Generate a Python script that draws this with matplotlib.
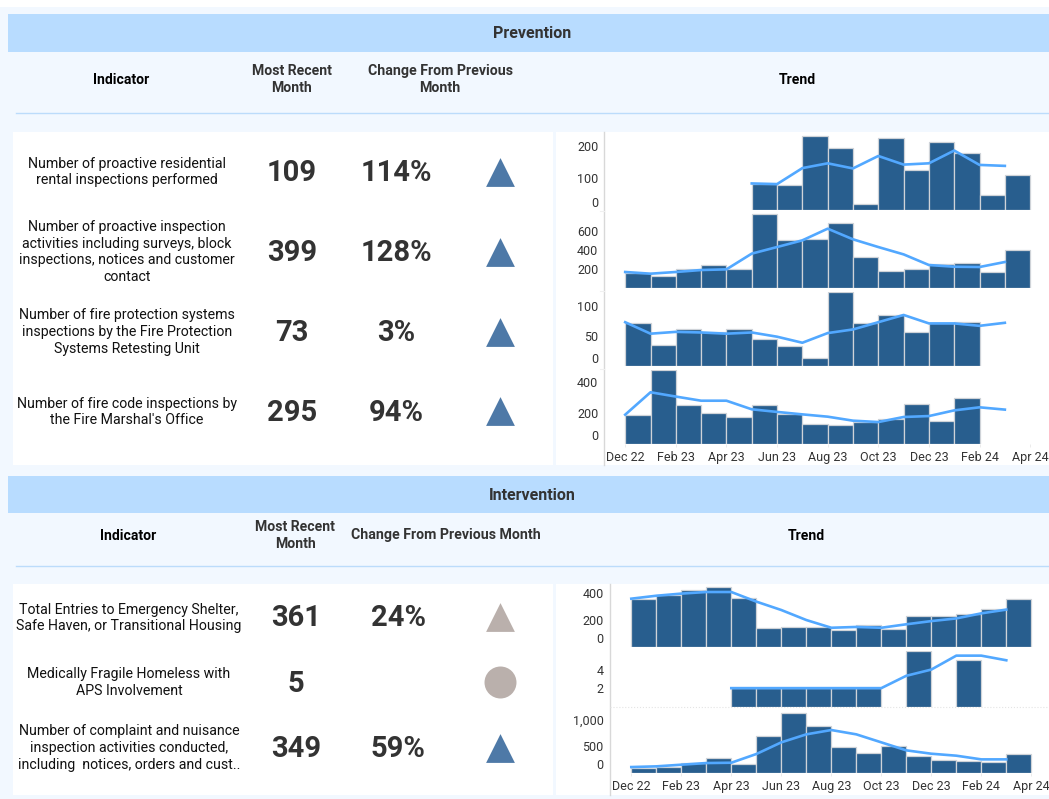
import numpy as np
import matplotlib
matplotlib.use('Agg')
import matplotlib.pyplot as plt
from matplotlib.transforms import ScaledTranslation

plt.rcParams['font.family'] = ['Roboto', 'DejaVu Sans']

#%% data
nan = np.nan
months = ['Dec 22', 'Feb 23', 'Apr 23', 'Jun 23', 'Aug 23', 'Oct 23', 'Dec 23', 'Feb 24', 'Apr 24']

residential_bars = [nan, nan, nan, nan, nan, 81, 78, 232, 194, 20, 227, 125, 215, 178, 49, 109]
residential_line = [nan, nan, nan, nan, nan, 84, 82, 132, 147, 131, 170, 143, 147, 187, 142, 139]

proactive_bars = [163, 131, 205, 244, 198, 782, 510, 524, 690, 326, 177, 205, 251, 262, 170, 399]
proactive_line = [170, 152, 170, 191, 198, 365, 435, 506, 630, 517, 435, 357, 244, 226, 223, 276]

protection_bars = [72, 35, 61, 56, 62, 45, 34, 13, 123, 71, 85, 57, 71, 73, nan, nan]
protection_line = [73, 54, 57, 56, 54, 56, 49, 39, 55, 61, 73, 85, 71, 71, 67, 72]

firecode_bars = [185, 478, 250, 198, 176, 254, 191, 130, 120, 139, 159, 259, 150, 295, nan, nan]
firecode_line = [189, 335, 307, 280, 280, 224, 207, 191, 176, 150, 141, 174, 180, 217, 237, 222]

shelter_bars = [360, 390, 428, 445, 362, 138, 150, 145, 125, 162, 132, 230, 230, 247, 282, 361]
shelter_line = [360, 382, 398, 410, 410, 338, 275, 200, 142, 148, 142, 168, 192, 212, 250, 278]

fragile_bars = [nan, nan, nan, nan, 2, 2, 2, 2, 2, 2, nan, 6, nan, 5, nan, nan]
fragile_line = [nan, nan, nan, nan, 2, 2, 2, 2, 2, 2, 2, 3.33, 4, 5.5, 5.5, 5]

nuisance_bars = [94, 112, 188, 269, 162, 694, 1112, 881, 481, 375, 500, 306, 231, 212, 206, 349]
nuisance_line = [106, 119, 150, 181, 187, 350, 569, 719, 800, 719, 569, 419, 356, 319, 250, 250]

prevention_rows = ['Number of proactive residential\nrental inspections performed',
                   'Number of proactive inspection\nactivities including surveys, block\ninspections, notices and customer\ncontact',
                   'Number of fire protection systems\ninspections by the Fire Protection\nSystems Retesting Unit',
                   "Number of fire code inspections by\nthe Fire Marshal's Office"]
prevention_recent = ['109', '399', '73', '295']
prevention_change = ['114%', '128%', '3%', '94%']

intervention_rows = ['Total Entries to Emergency Shelter,\nSafe Haven, or Transitional Housing',
                     'Medically Fragile Homeless with\nAPS Involvement',
                     'Number of complaint and nuisance\ninspection activities conducted,\nincluding  notices, orders and cust..']
intervention_recent = ['361', '5', '349']
intervention_change = ['24%', '', '59%']

#%% colours
page = '#f2f8ff'
band = '#b8dcff'
bar_col = '#285e8e'
line_col = '#52a8ff'
up_col = '#4e79a7'
flat_col = '#bab0ac'
ink = '#333333'

W, H = 1049, 799
fig = plt.figure(figsize=(W/100, H/100), dpi=100, facecolor=page)

# full page axes in pixel units, for the table part
bg = fig.add_axes([0, 0, 1, 1])
bg.set_xlim(0, W)
bg.set_ylim(H, 0)
bg.axis('off')


def rect(x0, y0, x1, y1, col):
    bg.fill_between([x0, x1], y0, y1, color=col, lw=0)


def chart(bars, line, left, x0, month, top, base, ymax, ticks, labels=None, xlabels=False):
    ax = fig.add_axes([left/W, 1-base/H, (W-left)/W, (base-top)/H])
    ax.patch.set_alpha(0)
    x = np.arange(16)
    ax.bar(x, bars, width=1, align='edge', color=bar_col, edgecolor='#cfd3d8', linewidth=0.9, zorder=2)
    ax.plot(x, line, color=line_col, lw=1.9, zorder=3, clip_on=False, solid_joinstyle='round')
    ax.set_xlim((left-x0)/month, (W-x0)/month)
    ax.set_ylim(0, ymax)
    for s in ax.spines.values():
        s.set_visible(False)
    ax.set_yticks(ticks)
    ax.set_yticklabels(labels if labels else [str(t) for t in ticks])
    ax.tick_params(axis='y', length=0, pad=4.5, labelsize=9, labelcolor=ink)
    # zero label sits above the baseline in the original
    shift = ScaledTranslation(0, 8.5/100, fig.dpi_scale_trans)
    for t, tick in zip(ticks, ax.yaxis.get_major_ticks()):
        if t == 0:
            tick.label1.set_transform(tick.label1.get_transform() + shift)
    ax.set_xticks([])
    if xlabels:
        ax.set_xticks(np.arange(0, 17, 2))
        ax.set_xticklabels(months)
        ax.tick_params(axis='x', length=2, width=0.6, color='#e8e8e8', pad=3, labelsize=9, labelcolor=ink)
    return ax


def section(title, y_band, h_band, x_ind, x_rec, x_chg, x_trend, y_head, y_rule, y_panel, chg_head):
    rect(8, y_band, W, y_band+h_band, band)
    bg.text(532, y_band+h_band/2+0.5, title, ha='center', va='center', fontsize=11.5, fontweight='bold', color=ink)
    bg.text(x_ind, y_head, 'Indicator', ha='center', va='center', fontsize=10.1, fontweight='bold', color='black')
    bg.text(x_rec, y_head, 'Most Recent\nMonth', ha='center', va='center', fontsize=10.1, fontweight='bold',
            color=ink, linespacing=1.27)
    bg.text(x_chg, y_head, chg_head, ha='center', va='center', fontsize=10.15, fontweight='bold',
            color=ink, linespacing=1.27)
    bg.text(x_trend, y_head, 'Trend', ha='center', va='center', fontsize=10.1, fontweight='bold', color='black')
    bg.plot([16, W], [y_rule, y_rule], color='#bcdcfb', lw=1)
    rect(13, y_panel[0], 553, y_panel[1], 'white')
    rect(556, y_panel[0], W, y_panel[1], 'white')


def row(y_lab, y_num, y_mark, label, recent, change, x_lab, x_rec, x_chg, marker, col):
    bg.text(x_lab, y_lab, label, ha='center', va='center', fontsize=10.2, color='#111111', linespacing=1.27)
    bg.text(x_rec, y_num, recent, ha='center', va='center', fontsize=21, fontweight='bold', color=ink)
    bg.text(x_chg, y_num, change, ha='center', va='center', fontsize=21, fontweight='bold', color=ink)
    bg.scatter([500], [y_mark], marker=marker, s=430 if marker == '^' else 530, color=col, lw=0)


#%% table part
rect(0, 0, W, 7, 'white')
section('Prevention', 14, 38, 121, 292, 440, 797, 79.5, 113, (132, 465), 'Change From Previous\nMonth')
section('Intervention', 476, 37, 128, 295, 446, 806, 535.5, 565.5, (584, 795), 'Change From Previous Month')

for a, b, c, y_lab, y_num, y_mark in zip(prevention_rows, prevention_recent, prevention_change,
                                         [172, 252, 332, 412], [173, 253, 333, 413], [172, 252, 332, 411]):
    row(y_lab, y_num, y_mark, a, b, c, 127, 292, 396, '^', up_col)

markers = ['^', 'o', '^']
cols = [flat_col, flat_col, up_col]
for a, b, c, y_lab, y_num, y_mark, m, col in zip(intervention_rows, intervention_recent, intervention_change,
                                                 [618, 682.5, 748], [618, 684, 749], [617, 682, 748], markers, cols):
    row(y_lab, y_num, y_mark, a, b, c, 129, 296, 398, m, col)

# y axis rules and separators
bg.plot([604, 604], [132, 465], color='#d8d8d8', lw=1)
bg.plot([610, 610], [584, 795], color='#d8d8d8', lw=1)
for y in [211, 291, 369]:
    bg.plot([600, 604], [y, y], color='#f0f0f0', lw=0.8)
bg.plot([610, W], [707, 707], color='#e4e4e4', lw=0.8, ls=':')

#%% trend charts
x0, month = 625.2, 25.31
chart(residential_bars, residential_line, 604.5, x0, month, 132, 210.3, 245, [0, 100, 200])
chart(proactive_bars, proactive_line, 604.5, x0, month, 212, 288, 807, [200, 400, 600])
chart(protection_bars, protection_line, 604.5, x0, month, 292, 366.3, 123, [0, 50, 100])
chart(firecode_bars, firecode_line, 604.5, x0, month, 370, 443.7, 480, [0, 200, 400], xlabels=True)

x0, month = 631.3, 25.0
chart(shelter_bars, shelter_line, 610, x0, month, 584, 646.7, 470, [0, 200, 400])
chart(fragile_bars, fragile_line, 610, x0, month, 651, 706.7, 6, [2, 4])
chart(nuisance_bars, nuisance_line, 610, x0, month, 708, 772.7, 1213, [0, 500, 1000], labels=['0', '500', '1,000'], xlabels=True)

plt.savefig('out.png', dpi=100, facecolor=page)
